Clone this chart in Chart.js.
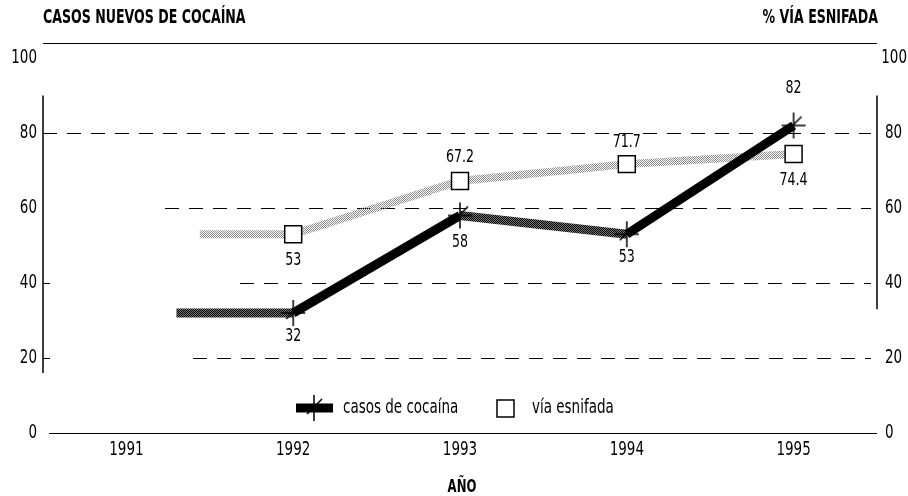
<!DOCTYPE html>
<html>
<head>
<meta charset="utf-8">
<script src="https://cdn.jsdelivr.net/npm/chart.js@4.4.1/dist/chart.umd.min.js"></script>
<style>
    html, body { margin: 0; padding: 0; background: #fff; }
    #wrap { width: 908px; height: 496px; position: relative; }
</style>
</head>
<body>
<div id="wrap"><canvas id="chart"></canvas></div>
<script>
// Data
const years = ['1991', '1992', '1993', '1994', '1995'];
const casosCocaina = [null, 32, 58, 53, 82];
const viaEsnifada = [null, 53, 67.2, 71.7, 74.4];
const yTicks = [0, 20, 40, 60, 80, 100];

const FONT = "'Liberation Sans Narrow', 'DejaVu Sans Condensed', 'Arial Narrow', sans-serif";

const canvas = document.getElementById('chart');
const ctx = canvas.getContext('2d');

// stippled stroke patterns (scanned-print look)
function stipple(fg, bg) {
    const c = document.createElement('canvas');
    c.width = 4; c.height = 4;
    const g = c.getContext('2d');
    if (bg) { g.fillStyle = bg; g.fillRect(0, 0, 4, 4); }
    g.fillStyle = fg;
    for (let y = 0; y < 4; y++) {
        for (let x = 0; x < 4; x++) {
            if ((x + y) % 2 === 0) g.fillRect(x, y, 1, 1);
        }
    }
    return ctx.createPattern(c, 'repeat');
}
const darkPattern = stipple('#000', '#777');
const lightPattern = stipple('#8a8a8a', null);

// cross marker with slash for cocaine series
function crossMarker() {
    const c = document.createElement('canvas');
    c.width = 28; c.height = 28;
    const g = c.getContext('2d');
    g.strokeStyle = '#000';
    g.lineWidth = 1.5;
    g.beginPath();
    g.moveTo(14, 1); g.lineTo(14, 27);
    g.moveTo(2, 14); g.lineTo(26, 14);
    g.moveTo(7, 20); g.lineTo(22, 5);
    g.stroke();
    return c;
}
const crossImg = crossMarker();

// tall condensed text, like the printed original
function tallText(ctx, text, x, y, sy) {
    ctx.save();
    ctx.translate(x, y);
    ctx.scale(1, sy);
    ctx.fillText(text, 0, 0);
    ctx.restore();
}

// Grid, axis lines, stubs
const backdrop = {
    id: 'backdrop',
    beforeDatasetsDraw(chart) {
        const { ctx, chartArea: a, scales } = chart;
        const y = scales.y;
        const gridStart = { 80: a.left, 60: 165, 40: 240, 20: 193 };
        ctx.save();
        ctx.strokeStyle = '#000';
        ctx.lineWidth = 1;

        // top and bottom rules
        ctx.beginPath();
        ctx.moveTo(a.left, a.top + 0.5); ctx.lineTo(a.right, a.top + 0.5);
        ctx.moveTo(a.left + 6, y.getPixelForValue(0) + 0.5); ctx.lineTo(a.right, y.getPixelForValue(0) + 0.5);
        ctx.stroke();

        // dashed gridlines
        ctx.setLineDash([14, 10]);
        [20, 40, 60, 80].forEach(v => {
            const py = Math.round(y.getPixelForValue(v)) + 0.5;
            ctx.beginPath();
            ctx.moveTo(gridStart[v], py);
            ctx.lineTo(a.right - 6, py);
            ctx.stroke();
        });
        ctx.setLineDash([]);

        // left ticks
        [20, 40].forEach(v => {
            const py = Math.round(y.getPixelForValue(v)) + 0.5;
            ctx.beginPath();
            ctx.moveTo(a.left, py); ctx.lineTo(a.left + 7, py);
            ctx.stroke();
        });

        // partial vertical axes
        ctx.lineWidth = 1.5;
        ctx.beginPath();
        ctx.moveTo(a.left, y.getPixelForValue(90)); ctx.lineTo(a.left, y.getPixelForValue(16));
        ctx.moveTo(a.right, y.getPixelForValue(90)); ctx.lineTo(a.right, y.getPixelForValue(33));
        ctx.stroke();

        // lead-in stubs left of the first point of each series
        const x = scales.x;
        const cw = x.getPixelForValue(1) - x.getPixelForValue(0);
        chart.data.datasets.forEach((ds, i) => {
            const meta = chart.getDatasetMeta(i);
            const first = meta.data.find(p => !p.skip);
            if (!first) return;
            ctx.strokeStyle = ds.stubColor;
            ctx.lineWidth = ds.borderWidth;
            ctx.beginPath();
            ctx.moveTo(first.x - ds.stubLength * cw, first.y);
            ctx.lineTo(first.x, first.y);
            ctx.stroke();
        });
        ctx.restore();
    }
};

// Tick labels, value labels, legend, titles
const annotations = {
    id: 'annotations',
    afterDraw(chart) {
        const { ctx, chartArea: a, scales } = chart;
        ctx.save();
        ctx.fillStyle = '#000';
        ctx.textBaseline = 'middle';

        // axis tick labels (drawn tall and narrow)
        ctx.font = `15px ${FONT}`;
        ctx.textAlign = 'center';
        scales.x.ticks.forEach((t, i) => {
            tallText(ctx, years[i], scales.x.getPixelForTick(i), a.bottom + 17, 1.35);
        });
        ctx.textAlign = 'right';
        scales.y.ticks.forEach((t, i) => {
            tallText(ctx, String(t.value), a.left - 6, scales.y.getPixelForTick(i), 1.35);
        });
        ctx.textAlign = 'left';
        scales.y2.ticks.forEach((t, i) => {
            const s = String(t.value);
            const x0 = Math.min(a.right + 8, chart.width - 1 - ctx.measureText(s).width);
            tallText(ctx, s, x0, scales.y2.getPixelForTick(i), 1.35);
        });

        ctx.font = `14px ${FONT}`;
        ctx.textAlign = 'center';
        chart.data.datasets.forEach((ds, i) => {
            chart.getDatasetMeta(i).data.forEach((p, j) => {
                const v = ds.data[j];
                if (v === null || p.skip) return;
                tallText(ctx, String(v), p.x, p.y + ds.labelDy[j], 1.2);
            });
        });

        // legend
        const ly = 408;
        ctx.fillRect(296, ly - 4.5, 37, 9);
        ctx.drawImage(crossImg, 314 - 14, ly - 14);
        ctx.textAlign = 'left';
        ctx.font = `15px ${FONT}`;
        tallText(ctx, chart.data.datasets[0].label, 343, ly, 1.25);
        ctx.strokeStyle = '#000';
        ctx.lineWidth = 1.5;
        ctx.strokeRect(497, ly - 8, 17, 17);
        tallText(ctx, chart.data.datasets[1].label, 532, ly, 1.25);

        // titles
        ctx.font = `bold 14px ${FONT}`;
        tallText(ctx, 'CASOS NUEVOS DE COCAÍNA', 43, 18, 1.35);
        ctx.textAlign = 'right';
        tallText(ctx, '% VÍA ESNIFADA', 878, 18, 1.35);
        ctx.textAlign = 'center';
        ctx.font = `bold 13px ${FONT}`;
        tallText(ctx, 'AÑO', 462, 488, 1.3);
        ctx.restore();
    }
};

new Chart(ctx, {
    type: 'line',
    data: {
        labels: years,
        datasets: [
            {
                label: 'casos de cocaína',
                data: casosCocaina,
                yAxisID: 'y',
                borderColor: '#000',
                borderWidth: 9,
                borderCapStyle: 'butt',
                segment: {
                    borderColor: c => c.p0DataIndex === 2 ? darkPattern : '#000'
                },
                pointStyle: crossImg,
                pointRadius: 14,
                tension: 0,
                order: 1,
                stubColor: darkPattern,
                stubLength: 0.7,
                labelDy: [0, 24, 27, 23, -37]
            },
            {
                label: 'vía esnifada',
                data: viaEsnifada,
                yAxisID: 'y',
                borderColor: lightPattern,
                borderWidth: 8,
                pointStyle: 'rect',
                pointRadius: 12,
                pointBackgroundColor: '#fff',
                pointBorderColor: '#000',
                pointBorderWidth: 1.5,
                tension: 0,
                order: 2,
                stubColor: lightPattern,
                stubLength: 0.56,
                labelDy: [0, 26, -23, -21, 27]
            }
        ]
    },
    options: {
        responsive: true,
        maintainAspectRatio: false,
        animation: false,
        layout: { padding: { top: 43, left: 0, right: 0, bottom: 0 } },
        plugins: {
            legend: { display: false },
            tooltip: { enabled: false }
        },
        scales: {
            x: {
                type: 'category',
                offset: true,
                grid: { display: false, drawTicks: false },
                border: { display: false },
                ticks: { display: false },
                afterFit: s => { s.height = 63; }
            },
            y: {
                position: 'left',
                min: 0,
                max: 104,
                afterBuildTicks: s => { s.ticks = yTicks.map(v => ({ value: v })); },
                grid: { display: false, drawTicks: false },
                border: { display: false },
                ticks: { display: false },
                afterFit: s => { s.width = 43; }
            },
            y2: {
                position: 'right',
                min: 0,
                max: 104,
                afterBuildTicks: s => { s.ticks = yTicks.map(v => ({ value: v })); },
                grid: { display: false, drawTicks: false },
                border: { display: false },
                ticks: { display: false },
                afterFit: s => { s.width = 31; }
            }
        }
    },
    plugins: [backdrop, annotations]
});
</script>
</body>
</html>
